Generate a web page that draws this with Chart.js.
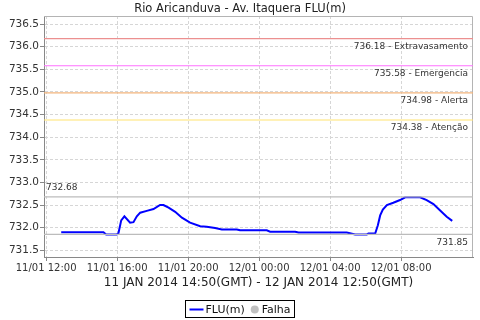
<!DOCTYPE html>
<html>
<head>
<meta charset="utf-8">
<script src="https://cdn.jsdelivr.net/npm/chart.js@4.4.1/dist/chart.umd.min.js"></script>
<style>
  html, body { margin: 0; padding: 0; background: #fff; }
  #wrap { width: 480px; height: 320px; }
</style>
</head>
<body>
<div id="wrap"><canvas id="levelChart" width="480" height="320"></canvas></div>
<script>
// hours counted from 11/01 00:00 (local time)
const fluHours = [12.85, 15.23, 15.38, 15.98, 16.07, 16.23, 16.41, 16.73, 16.92, 17.11, 17.30, 17.67,
  18.05, 18.42, 18.61, 18.90, 19.27, 19.65, 20.11, 20.68, 21.05, 21.52, 21.90, 22.74, 22.93, 24.43,
  24.62, 26.03, 26.22, 28.94, 29.41, 30.07, 30.16, 30.54, 30.69, 30.82, 30.97, 31.20, 31.56, 31.94,
  32.23, 33.07, 33.44, 33.82, 34.20, 34.57, 34.88];
const fluValues = [731.90, 731.90, 731.85, 731.85, 731.87, 732.16, 732.25, 732.11, 732.12, 732.25, 732.33, 732.37,
  732.41, 732.50, 732.50, 732.44, 732.35, 732.22, 732.11, 732.03, 732.02, 731.99, 731.96, 731.96, 731.94, 731.94,
  731.91, 731.91, 731.89, 731.89, 731.85, 731.85, 731.87, 731.87, 732.05, 732.27, 732.40, 732.50, 732.55, 732.61,
  732.67, 732.67, 732.61, 732.52, 732.38, 732.24, 732.15];

const limitValues = [736.18, 735.58, 734.98, 734.38];
const limitNames = ["Extravasamento", "Emergencia", "Alerta", "Atenção"];
const limitColors = ["#ec9090", "#ff70ff", "#f2b47c", "#ffe370"];

const maxValue = 732.68;
const minValue = 731.85;

const xTickHours = [12, 16, 20, 24, 28, 32];
const xTickLabels = ["11/01 12:00", "11/01 16:00", "11/01 20:00", "12/01 00:00", "12/01 04:00", "12/01 08:00"];
const yTicks = [731.5, 732.0, 732.5, 733.0, 733.5, 734.0, 734.5, 735.0, 735.5, 736.0, 736.5];

const titleText = "Rio Aricanduva - Av. Itaquera FLU(m)";
const subtitleText = "11 JAN 2014 14:50(GMT) - 12 JAN 2014 12:50(GMT)";
const legendNames = ["FLU(m)", "Falha"];

const xMin = 11.88, xMax = 36.05;
const yMin = 731.35, yMax = 736.68;

Chart.defaults.font.family = "'DejaVu Sans', sans-serif";
Chart.defaults.color = "#333";

function flatLine(v, color) {
  return {
    data: [{ x: xMin, y: v }, { x: xMax, y: v }],
    borderColor: color,
    borderWidth: 1.2,
    pointRadius: 0,
    fill: false
  };
}

const datasets = [];
limitValues.forEach((v, i) => datasets.push(flatLine(v, limitColors[i])));
datasets.push(flatLine(maxValue, "#bcbcbc"));
datasets.push(flatLine(minValue, "#bcbcbc"));
datasets.push({
  label: legendNames[0],
  data: fluHours.map((h, i) => ({ x: h, y: fluValues[i] })),
  borderColor: "#0000ff",
  borderWidth: 2,
  pointRadius: 0,
  tension: 0,
  fill: false
});

const decorations = {
  id: "decorations",
  beforeDatasetsDraw(chart) {
    const { ctx, chartArea: a } = chart;
    ctx.save();
    ctx.strokeStyle = "#b4b4b4";
    ctx.lineWidth = 1;
    ctx.beginPath();
    ctx.moveTo(a.left, a.top + 0.5);
    ctx.lineTo(a.right - 0.5, a.top + 0.5);
    ctx.lineTo(a.right - 0.5, a.bottom);
    ctx.stroke();
    ctx.restore();
  },
  afterDraw(chart) {
    const { ctx, chartArea: a, scales } = chart;
    const y = scales.y;
    ctx.save();
    ctx.fillStyle = "#222";
    ctx.textBaseline = "middle";

    ctx.font = "11.5px 'DejaVu Sans'";
    ctx.textAlign = "center";
    ctx.fillText(titleText, 240, 9);

    ctx.font = "12px 'DejaVu Sans'";
    ctx.fillText(subtitleText, (a.left + a.right) / 2, 283);

    ctx.font = "9px 'DejaVu Sans'";
    ctx.fillStyle = "#333";
    ctx.textAlign = "right";
    limitValues.forEach((v, i) => {
      ctx.fillText(v.toFixed(2) + " - " + limitNames[i], a.right - 5, y.getPixelForValue(v) + 8);
    });
    ctx.fillText(minValue.toFixed(2), a.right - 5, y.getPixelForValue(minValue) + 8);
    ctx.textAlign = "left";
    ctx.fillText(maxValue.toFixed(2), a.left + 2, y.getPixelForValue(maxValue) - 9);

    // legend
    ctx.font = "11px 'DejaVu Sans'";
    const w1 = ctx.measureText(legendNames[0]).width;
    const w2 = ctx.measureText(legendNames[1]).width;
    const boxW = 4 + 14 + 2 + w1 + 6 + 8 + 3 + w2 + 4;
    const bx = Math.round(240 - boxW / 2) + 0.5;
    const cy = 309.5;
    ctx.strokeStyle = "#000";
    ctx.lineWidth = 1;
    ctx.strokeRect(bx, 300.5, Math.round(boxW), 17);
    let px = bx + 4;
    ctx.strokeStyle = "#0000ff";
    ctx.lineWidth = 2;
    ctx.beginPath();
    ctx.moveTo(px, cy);
    ctx.lineTo(px + 14, cy);
    ctx.stroke();
    px += 16;
    ctx.fillStyle = "#111";
    ctx.fillText(legendNames[0], px, cy + 0.5);
    px += w1 + 10;
    ctx.fillStyle = "#c0c0c0";
    ctx.beginPath();
    ctx.arc(px, cy, 4, 0, Math.PI * 2);
    ctx.fill();
    px += 7;
    ctx.fillStyle = "#111";
    ctx.fillText(legendNames[1], px, cy + 0.5);
    ctx.restore();
  }
};

new Chart(document.getElementById("levelChart").getContext("2d"), {
  type: "line",
  data: { datasets },
  plugins: [decorations],
  options: {
    responsive: false,
    animation: false,
    layout: { padding: { top: 16, right: 7, left: 0, bottom: 0 } },
    plugins: { legend: { display: false }, title: { display: false }, tooltip: { enabled: false } },
    scales: {
      x: {
        type: "linear",
        min: xMin,
        max: xMax,
        afterFit: s => { s.height = 63; },
        afterBuildTicks: s => { s.ticks = xTickHours.map(v => ({ value: v })); },
        ticks: {
          autoSkip: false,
          maxRotation: 0,
          padding: 1,
          font: { size: 10 },
          color: "#333",
          callback: (v) => xTickLabels[xTickHours.indexOf(v)]
        },
        grid: { color: "#d6d6d6", tickLength: 4, tickColor: "#888", tickBorderDash: [] },
        border: { color: "#888", dash: [3, 2] }
      },
      y: {
        min: yMin,
        max: yMax,
        afterFit: s => { s.width = 44; },
        afterBuildTicks: s => { s.ticks = yTicks.map(v => ({ value: v })); },
        ticks: {
          padding: 1,
          font: { size: 10.5 },
          color: "#333",
          callback: v => v.toFixed(1)
        },
        grid: { color: "#d6d6d6", tickLength: 4, tickColor: "#888", tickBorderDash: [] },
        border: { color: "#888", dash: [3, 2] }
      }
    }
  }
});
</script>
</body>
</html>
